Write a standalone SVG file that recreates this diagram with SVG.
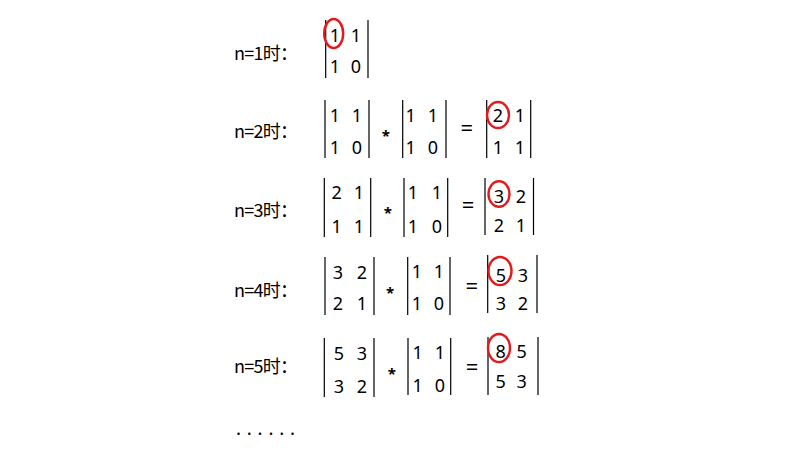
<svg xmlns="http://www.w3.org/2000/svg" width="802" height="454" viewBox="0 0 802 454">
<style>
.lbl{font-family:"Noto Sans CJK SC","Noto Sans",sans-serif;font-size:18px;fill:#000}
.d{font-family:"Noto Sans","Noto Sans CJK SC",sans-serif;font-size:18px;fill:#000;text-anchor:middle}
.op{font-family:"Noto Sans","Noto Sans CJK SC",sans-serif;fill:#000;text-anchor:middle}
.ast{font-size:15px;font-weight:bold}
.eq{font-size:22px}
.bar{stroke:#000;stroke-width:1.2;fill:none}
.ring{stroke:#e3191c;stroke-width:2.4;fill:none}
</style>
<rect width="802" height="454" fill="#fff"/>

<g id="row1">
<text class="lbl" x="234" y="60" textLength="64" lengthAdjust="spacing">n=1时：</text>
<g id="r1m1">
<path class="bar" d="M325.7 20V78M368 20V78"/>
<text class="d" x="335" y="42">1</text><text class="d" x="356" y="42">1</text>
<text class="d" x="335" y="73">1</text><text class="d" x="356" y="73">0</text>
<ellipse class="ring" cx="333.7" cy="33.5" rx="9.5" ry="14.5"/>
</g>
</g>

<g id="row2">
<text class="lbl" x="234" y="138" textLength="64" lengthAdjust="spacing">n=2时：</text>
<g id="r2m1">
<path class="bar" d="M325 100V158M369 100V158"/>
<text class="d" x="335" y="122">1</text><text class="d" x="357" y="122">1</text>
<text class="d" x="335" y="154">1</text><text class="d" x="357" y="154">0</text>
</g>
<text class="op ast" x="385.7" y="140.5">*</text>
<g id="r2m2">
<path class="bar" d="M402.7 100V158M446 100V158"/>
<text class="d" x="410.7" y="122">1</text><text class="d" x="433" y="122">1</text>
<text class="d" x="410.7" y="154">1</text><text class="d" x="433" y="154">0</text>
</g>
<text class="op eq" x="466.7" y="135.5">=</text>
<g id="r2m3">
<path class="bar" d="M486.7 100V158M530.7 100V158"/>
<text class="d" x="498" y="122">2</text><text class="d" x="520" y="122">1</text>
<text class="d" x="498" y="154">1</text><text class="d" x="520" y="154">1</text>
<ellipse class="ring" cx="498" cy="115" rx="11" ry="13"/>
</g>
</g>

<g id="row3">
<text class="lbl" x="234" y="217" textLength="64" lengthAdjust="spacing">n=3时：</text>
<g id="r3m1">
<path class="bar" d="M324.3 178V237M370.7 178V237"/>
<text class="d" x="336.7" y="199">2</text><text class="d" x="359" y="199">1</text>
<text class="d" x="336.7" y="233">1</text><text class="d" x="359" y="233">1</text>
</g>
<text class="op ast" x="387.7" y="217.5">*</text>
<g id="r3m2">
<path class="bar" d="M404 178V237M447.7 178V237"/>
<text class="d" x="413" y="199">1</text><text class="d" x="437" y="199">1</text>
<text class="d" x="413" y="233">1</text><text class="d" x="437" y="233">0</text>
</g>
<text class="op eq" x="468" y="212.5">=</text>
<g id="r3m3">
<path class="bar" d="M485 178V235M533.5 178V235"/>
<text class="d" x="499" y="203">3</text><text class="d" x="521" y="203">2</text>
<text class="d" x="499" y="231.5">2</text><text class="d" x="521" y="231.5">1</text>
<ellipse class="ring" cx="499" cy="194" rx="10.5" ry="12.8"/>
</g>
</g>

<g id="row4">
<text class="lbl" x="234" y="297" textLength="64" lengthAdjust="spacing">n=4时：</text>
<g id="r4m1">
<path class="bar" d="M325 257V315M374 257V315"/>
<text class="d" x="338" y="279">3</text><text class="d" x="362" y="279">2</text>
<text class="d" x="338" y="310">2</text><text class="d" x="362" y="310">1</text>
</g>
<text class="op ast" x="390" y="298">*</text>
<g id="r4m2">
<path class="bar" d="M407.7 257V315M450 257V315"/>
<text class="d" x="417" y="278">1</text><text class="d" x="439" y="278">1</text>
<text class="d" x="417" y="310">1</text><text class="d" x="439" y="310">0</text>
</g>
<text class="op eq" x="471.7" y="293.5">=</text>
<g id="r4m3">
<path class="bar" d="M487.7 255V313M537 255V313"/>
<text class="d" x="501" y="281.5">5</text><text class="d" x="523" y="281.5">3</text>
<text class="d" x="501" y="310">3</text><text class="d" x="523" y="310">2</text>
<ellipse class="ring" cx="500" cy="271" rx="11.5" ry="14"/>
</g>
</g>

<g id="row5">
<text class="lbl" x="234" y="373" textLength="64" lengthAdjust="spacing">n=5时：</text>
<g id="r5m1">
<path class="bar" d="M324.3 338V397M374 338V397"/>
<text class="d" x="339" y="360">5</text><text class="d" x="362" y="360">3</text>
<text class="d" x="339" y="393">3</text><text class="d" x="362" y="393">2</text>
</g>
<text class="op ast" x="391.7" y="378.5">*</text>
<g id="r5m2">
<path class="bar" d="M408 338V395M450.7 338V395"/>
<text class="d" x="417.7" y="359.3">1</text><text class="d" x="440" y="359.3">1</text>
<text class="d" x="417.7" y="391.7">1</text><text class="d" x="440" y="391.7">0</text>
</g>
<text class="op eq" x="472" y="374.5">=</text>
<g id="r5m3">
<path class="bar" d="M488 337V395M538 337V395"/>
<text class="d" x="500.7" y="358">8</text><text class="d" x="521.7" y="358">5</text>
<text class="d" x="500.7" y="388">5</text><text class="d" x="521.7" y="388">3</text>
<ellipse class="ring" cx="499" cy="348" rx="11" ry="14"/>
</g>
</g>

<text class="lbl" x="236" y="435" textLength="59" lengthAdjust="spacing">......</text>
</svg>
